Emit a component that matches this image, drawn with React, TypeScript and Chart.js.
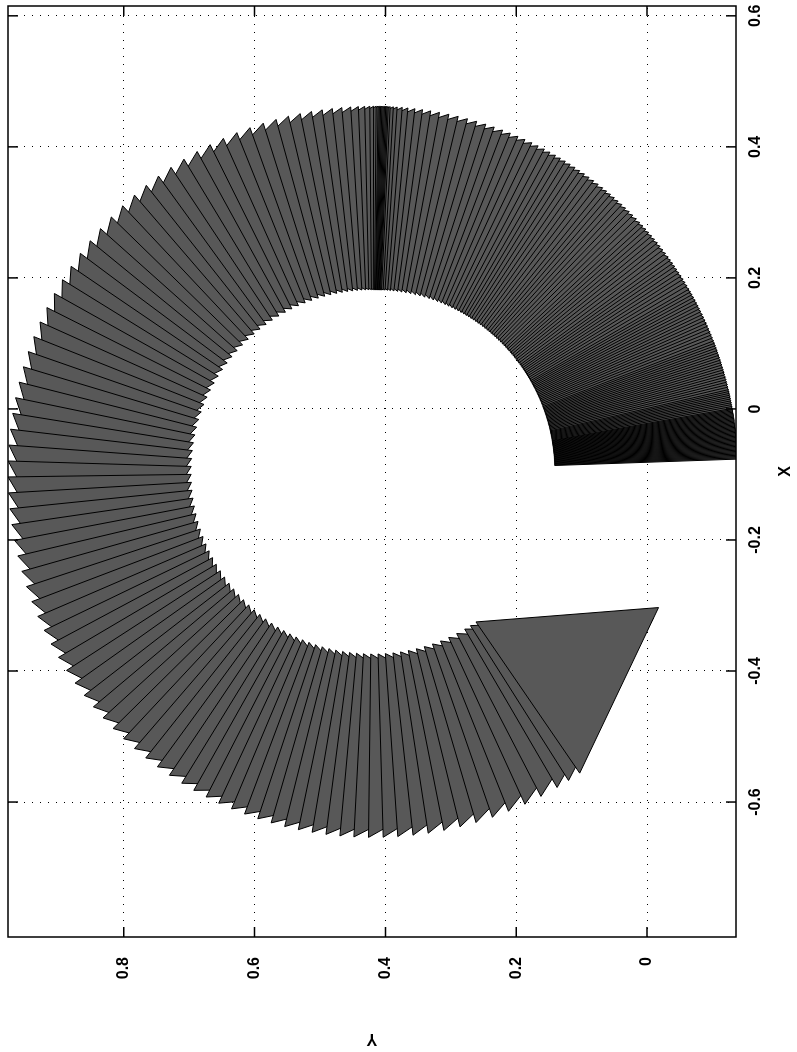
import React, { useEffect, useRef } from "react";
import { Chart, registerables } from "chart.js";

Chart.register(...registerables);

// Axis limits (axis equal in the source figure)
const X_LIMITS = [-0.806, 0.615];
const Y_LIMITS = [-0.136, 0.977];
const X_TICKS = [-0.6, -0.4, -0.2, 0, 0.2, 0.4, 0.6];
const X_TICK_LABELS = ["-0.6", "-0.4", "-0.2", "0", "0.2", "0.4", "0.6"];
const Y_TICKS = [0, 0.2, 0.4, 0.6, 0.8];
const Y_TICK_LABELS = ["0", "0.2", "0.4", "0.6", "0.8"];

// Rotating equilateral triangle: pivot point, radius of inner vertex, side length
const PIVOT_X = -0.096;
const PIVOT_Y = 0.419;
const INNER_R = 0.278;
const SIDE = 0.28;

// Orientation (degrees) of the triangle's radial edge for every drawn pose
const POSE_ANGLES = [
  -88.0, -87.8, -87.6, -87.4, -87.2, -87.0, -86.8, -86.6, -86.4, -86.2, -86.0, -85.8,
  -85.6, -85.4, -85.2, -85.0, -84.8, -84.6, -84.4, -84.2, -84.0, -83.8, -83.6, -83.4,
  -83.2, -83.0, -82.8, -82.6, -82.4, -82.2, -82.0, -81.8, -81.6, -81.4, -81.2, -81.0,
  -80.8, -80.6, -80.4, -80.2, -80.0,
  -79.7, -79.4, -79.1, -78.8, -78.5, -78.2, -77.9, -77.6, -77.3, -77.0,
  -76.6, -76.2, -75.8, -75.4, -75.0, -74.6, -74.2, -73.8, -73.4, -73.0,
  -72.6, -72.2, -71.8, -71.4, -71.0, -70.6, -70.2, -69.8, -69.4, -69.0,
  -68.5, -68.0, -67.5, -67.0, -66.5, -66.0, -65.5, -65.0, -64.5, -64.0, -63.5, -63.0,
  -62.5, -62.0, -61.5, -61.0, -60.5, -60.0,
  -59.4, -58.8, -58.2, -57.6, -57.0, -56.4, -55.8, -55.2, -54.6, -54.0,
  -53.3, -52.6, -51.9, -51.2, -50.5, -49.8, -49.1, -48.4, -47.7, -47.0,
  -46.2, -45.4, -44.6, -43.8, -43.0, -42.2, -41.4, -40.6, -39.8, -39.0,
  -38.1, -37.2, -36.3, -35.4, -34.5, -33.6, -32.7, -31.8, -30.9, -30.0,
  -29.0, -28.0, -26.9, -25.8, -24.6, -23.4, -22.1, -20.8, -19.4, -18.0, -16.5, -15.0,
  -13.5, -12.0, -10.5, -9.1, -7.8, -6.6, -5.5, -4.6, -3.8, -3.2, -2.7,
  -2.4, -2.2, -2.0, -1.8, -1.6, -1.4, -1.2, -1.0, -0.8,
  -0.5, -0.1, 0.5, 1.3, 2.3, 3.5, 4.9, 6.4, 8.0, 9.7, 11.5, 13.4,
  15.4, 17.5, 19.7, 21.9, 24.2, 26.5, 28.8, 31.2, 33.6, 36.0, 38.4, 40.8,
  43.3, 45.8, 48.3, 50.8, 53.3, 55.8, 58.3, 60.8, 63.3, 65.8, 68.3, 70.8,
  73.3, 75.8, 78.3, 80.8, 83.3, 85.8, 88.3, 90.8, 93.3, 95.8, 98.3, 100.8,
  103.3, 105.8, 108.3, 110.8, 113.3, 115.7, 118.1, 120.5, 122.9, 125.3, 127.7, 130.0,
  132.3, 134.6, 136.9, 139.2, 141.5, 143.8, 146.1, 148.4, 150.6, 152.8, 155.0, 157.2,
  159.4, 161.6, 163.8, 166.0, 168.2, 170.4, 172.6, 174.8, 177.0, 179.3, 181.6, 183.9,
  186.3, 188.7, 191.2, 193.8, 196.4, 199.1, 201.8, 204.6, 207.4, 210.3, 212.4, 214.5,
];

const FILL_COLOR = "#585858";
const EDGE_COLOR = "#000000";
const FONT = { family: '"Liberation Sans", Arial, Helvetica, sans-serif', size: 16, weight: "bold" as const };

function trianglePoints(deg: number) {
  const a = (deg * Math.PI) / 180;
  const c = Math.cos(a);
  const s = Math.sin(a);
  const h = (SIDE * Math.sqrt(3)) / 2;
  const m = INNER_R + SIDE / 2;
  const inner = { x: PIVOT_X + INNER_R * c, y: PIVOT_Y + INNER_R * s };
  const outer = { x: PIVOT_X + (INNER_R + SIDE) * c, y: PIVOT_Y + (INNER_R + SIDE) * s };
  const tip = { x: PIVOT_X + m * c - h * s, y: PIVOT_Y + m * s + h * c };
  return [inner, outer, tip, inner];
}

function labelFor(ticks: number[], labels: string[], v: number) {
  const i = ticks.findIndex((t) => Math.abs(t - v) < 1e-9);
  return i >= 0 ? labels[i] : "";
}

const TICK_LEN = 10;

// fills each triangle (the dataset's own points, placed by the chart's scales)
const shapeFillPlugin = {
  id: "shapeFill",
  beforeDatasetDraw(chart: any, args: any) {
    const meta = args.meta;
    const pts = meta.data;
    if (!pts || !pts.length) return;
    const ds = chart.data.datasets[meta.index];
    const { ctx, chartArea: ca } = chart;
    ctx.save();
    ctx.beginPath();
    ctx.rect(ca.left, ca.top, ca.right - ca.left, ca.bottom - ca.top);
    ctx.clip();
    ctx.beginPath();
    pts.forEach((p: any, i: number) => (i ? ctx.lineTo(p.x, p.y) : ctx.moveTo(p.x, p.y)));
    ctx.closePath();
    ctx.fillStyle = ds.backgroundColor || FILL_COLOR;
    ctx.fill();
    ctx.restore();
  },
};

const framePlugin = {
  id: "frameTicks",
  afterDatasetsDraw(chart: any) {
    const { ctx, chartArea } = chart;
    const { left, right, top, bottom } = chartArea;
    const xs = chart.scales.x;
    const ys = chart.scales.y;
    ctx.save();
    ctx.setLineDash([]);
    ctx.strokeStyle = "#000";
    ctx.lineWidth = 1.5;
    ctx.strokeRect(left, top, right - left, bottom - top);
    ctx.beginPath();
    X_TICKS.forEach((v) => {
      const p = xs.getPixelForValue(v);
      ctx.moveTo(p, bottom);
      ctx.lineTo(p, bottom - TICK_LEN);
      ctx.moveTo(p, top);
      ctx.lineTo(p, top + TICK_LEN);
    });
    Y_TICKS.forEach((v) => {
      const p = ys.getPixelForValue(v);
      ctx.moveTo(left, p);
      ctx.lineTo(left + TICK_LEN, p);
      ctx.moveTo(right, p);
      ctx.lineTo(right - TICK_LEN, p);
    });
    ctx.stroke();
    ctx.restore();
  },
};

function zeroPadding(s: any) {
  s.paddingLeft = 0;
  s.paddingRight = 0;
  s.paddingTop = 0;
  s.paddingBottom = 0;
}

export default function App() {
  const canvasRef = useRef<HTMLCanvasElement | null>(null);

  useEffect(() => {
    const canvas = canvasRef.current;
    if (!canvas) return;

    // last pose first so that it is drawn on top
    const datasets = POSE_ANGLES.slice()
      .reverse()
      .map((deg) => ({
        data: trianglePoints(deg),
        showLine: true,
        fill: false,
        backgroundColor: FILL_COLOR,
        borderColor: EDGE_COLOR,
        borderWidth: 1,
        pointRadius: 0,
        tension: 0,
      }));

    const chart = new Chart(canvas, {
      type: "scatter",
      data: { datasets: datasets as any },
      options: {
        animation: false,
        responsive: false,
        events: [],
        layout: { padding: { top: 8, right: 6, left: 0, bottom: 0 } },
        plugins: {
          legend: { display: false },
          tooltip: { enabled: false },
        },
        scales: {
          x: {
            type: "linear",
            position: "bottom",
            min: X_LIMITS[0],
            max: X_LIMITS[1],
            afterBuildTicks: (s: any) => {
              s.ticks = X_TICKS.map((v) => ({ value: v }));
            },
            afterFit: (s: any) => {
              s.height = 61;
              zeroPadding(s);
            },
            ticks: {
              autoSkip: false,
              maxRotation: 0,
              minRotation: 0,
              padding: 10,
              color: "#000",
              font: FONT,
              callback: (v: any) => labelFor(X_TICKS, X_TICK_LABELS, Number(v)),
            },
            grid: { color: "#000", lineWidth: 1, drawTicks: false },
            border: { display: false, dash: [1, 7] },
            title: { display: true, text: "X", color: "#000", font: FONT, padding: { top: 0, bottom: 2 } },
          },
          y: {
            type: "linear",
            position: "left",
            min: Y_LIMITS[0],
            max: Y_LIMITS[1],
            afterBuildTicks: (s: any) => {
              s.ticks = Y_TICKS.map((v) => ({ value: v }));
            },
            afterFit: (s: any) => {
              s.width = 115;
              zeroPadding(s);
            },
            ticks: {
              autoSkip: false,
              padding: 20,
              color: "#000",
              font: FONT,
              callback: (v: any) => labelFor(Y_TICKS, Y_TICK_LABELS, Number(v)),
            },
            grid: { color: "#000", lineWidth: 1, drawTicks: false },
            border: { display: false, dash: [1, 7] },
            title: { display: true, text: "Y", color: "#000", font: FONT, padding: { top: 4, bottom: 0 } },
          },
        },
      } as any,
      plugins: [shapeFillPlugin, framePlugin],
    });

    return () => chart.destroy();
  }, []);

  return (
    <div
      style={{
        position: "fixed",
        left: 0,
        top: 0,
        width: 797,
        height: 1052,
        overflow: "hidden",
        background: "#fff",
      }}
    >
      <div
        style={{
          position: "absolute",
          left: 0,
          top: 0,
          width: 1052,
          height: 797,
          transformOrigin: "0 0",
          transform: "translateY(1052px) rotate(-90deg)",
        }}
      >
        <canvas ref={canvasRef} width={1052} height={797} style={{ display: "block" }} />
      </div>
    </div>
  );
}
